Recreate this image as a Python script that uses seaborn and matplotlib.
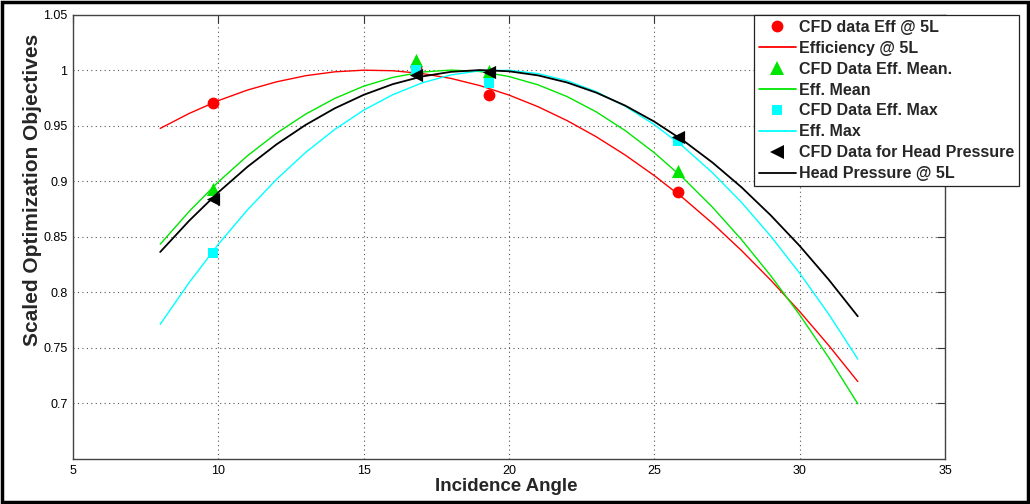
import matplotlib
matplotlib.use("Agg")
import matplotlib.pyplot as plt
import seaborn as sns
import pandas as pd
from matplotlib.lines import Line2D
from matplotlib.patches import Rectangle

# ---- data ----
curve_x = [8, 9, 10, 11, 12, 13, 14, 15, 16, 17, 18, 19, 20,
           21, 22, 23, 24, 25, 26, 27, 28, 29, 30, 31, 32]
eff_5l = [0.9475, 0.9610, 0.9725, 0.9820, 0.9894, 0.9949, 0.9984, 0.9999, 0.9994,
          0.9969, 0.9925, 0.9860, 0.9775, 0.9670, 0.9545, 0.9400, 0.9235, 0.9050,
          0.8846, 0.8621, 0.8376, 0.8111, 0.7827, 0.7522, 0.7197]
eff_mean = [0.8433, 0.8729, 0.8994, 0.9228, 0.9431, 0.9603, 0.9744, 0.9855, 0.9934,
            0.9982, 1.0000, 0.9987, 0.9942, 0.9867, 0.9761, 0.9624, 0.9455, 0.9256,
            0.9026, 0.8766, 0.8474, 0.8151, 0.7797, 0.7413, 0.6997]
eff_max = [0.7712, 0.8089, 0.8432, 0.8741, 0.9016, 0.9258, 0.9465, 0.9639, 0.9778,
           0.9884, 0.9956, 0.9994, 0.9998, 0.9968, 0.9904, 0.9806, 0.9674, 0.9509,
           0.9309, 0.9076, 0.8809, 0.8507, 0.8172, 0.7803, 0.7400]
head_5l = [0.8363, 0.8645, 0.8900, 0.9129, 0.9331, 0.9506, 0.9655, 0.9777, 0.9873,
           0.9942, 0.9984, 1.0000, 0.9989, 0.9952, 0.9888, 0.9797, 0.9680, 0.9536,
           0.9365, 0.9168, 0.8945, 0.8694, 0.8418, 0.8114, 0.7784]

cfd_x = [9.8, 16.8, 19.3, 25.8]
cfd_eff_5l = [0.970, 1.003, 0.9775, 0.890]
cfd_eff_mean = [0.893, 1.0095, 0.999, 0.909]
cfd_eff_max = [0.835, 1.0005, 0.988, 0.936]
cfd_head = [0.884, 0.9955, 0.9985, 0.940]

labels = ["CFD data Eff @ 5L", "Efficiency @ 5L",
          "CFD Data Eff. Mean.", "Eff. Mean",
          "CFD Data Eff. Max", "Eff. Max",
          "CFD Data for Head Pressure", "Head Pressure @ 5L"]
x_ticks = [5, 10, 15, 20, 25, 30, 35]
y_ticks = [0.7, 0.75, 0.8, 0.85, 0.9, 0.95, 1.0, 1.05]
y_ticklabels = ["0.7", "0.75", "0.8", "0.85", "0.9", "0.95", "1", "1.05"]

# ---- styling ----
sns.set_theme(style="white")
plt.rcParams["font.family"] = ["Liberation Sans", "DejaVu Sans"]

fig = plt.figure(figsize=(10.30, 5.04), dpi=100)
ax = fig.add_axes([73 / 1030, 1 - 459 / 504, (945 - 73) / 1030, (459 - 14.5) / 504])

series = [
    (cfd_eff_5l, eff_5l, "#ff0000", "o", 8.5),
    (cfd_eff_mean, eff_mean, "#00e600", "^", 9.5),
    (cfd_eff_max, eff_max, "#00ffff", "s", 7.5),
    (cfd_head, head_5l, "#000000", "<", 9.5),
]

handles = []
for pts, crv, col, mk, ms in series:
    sns.scatterplot(x=cfd_x, y=pts, ax=ax, color=col, marker=mk, s=ms ** 2,
                    edgecolor=col, linewidth=0, zorder=3)
    sns.lineplot(x=curve_x, y=crv, ax=ax, color=col, sort=False,
                 linewidth=1.3 if col == "#000000" else 1.0, zorder=3)
    handles.append(Line2D([], [], color=col, marker=mk, linestyle="none", markersize=ms,
                          markeredgewidth=0))
    handles.append(Line2D([], [], color=col, linewidth=1.3))

ax.set_xlim(5, 35)
ax.set_ylim(0.65, 1.05)
ax.set_xticks(x_ticks)
ax.set_yticks(y_ticks)
ax.set_yticklabels(y_ticklabels)
ax.grid(True, linestyle=(0, (1, 3)), color="#555555", linewidth=0.8)
ax.tick_params(direction="in", length=6, width=0.8, colors="#333333",
               top=True, right=True, labelsize=9, pad=4, labelcolor="black")
for s in ax.spines.values():
    s.set_color("#444444")
    s.set_linewidth(1.0)

ax.set_xlabel("Incidence Angle", fontsize=13.5, fontweight="bold")
ax.set_ylabel("Scaled Optimization Objectives", fontsize=15, fontweight="bold")
ax.xaxis.set_label_coords(0.497, -0.043)
ax.yaxis.set_label_coords(-0.036, 0.605)

leg = fig.legend(handles, labels, loc="upper right",
                 bbox_to_anchor=(1019 / 1030, 1 - 15 / 504),
                 prop={"weight": "bold", "size": 11.5},
                 frameon=True, fancybox=False, framealpha=1, edgecolor="#222222",
                 handlelength=2.3, handletextpad=0.2, labelspacing=0.37,
                 borderpad=0.3, borderaxespad=0.0)
leg.get_frame().set_linewidth(0.9)

fig.patches.append(Rectangle((0.002, 0.003), 0.996, 0.994, transform=fig.transFigure,
                             fill=False, edgecolor="black", linewidth=2.5))

fig.savefig("out.png", dpi=100)
